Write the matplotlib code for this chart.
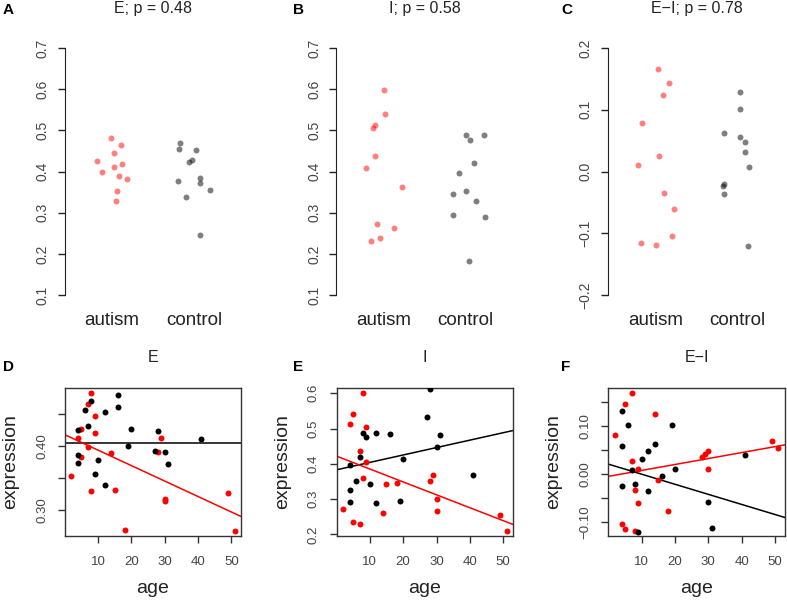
import numpy as np
import matplotlib
matplotlib.use('Agg')
import matplotlib.pyplot as plt

plt.rcParams['font.family'] = ['Liberation Sans', 'DejaVu Sans']

# ---- top row: stripcharts (x = jittered group position, 1 = autism, 2 = control)
groups = ['autism', 'control']

a_aut_x = [0.99, 1.11, 1.03, 0.815, 1.12, 1.02, 0.88, 1.09, 1.18, 1.06, 1.05]
a_aut_y = [0.481, 0.464, 0.445, 0.425, 0.419, 0.410, 0.398, 0.389, 0.382, 0.353, 0.329]
a_ctl_x = [1.83, 1.82, 2.03, 1.98, 1.94, 1.80, 2.07, 2.07, 2.20, 1.90, 2.07]
a_ctl_y = [0.469, 0.454, 0.452, 0.429, 0.423, 0.378, 0.385, 0.373, 0.356, 0.338, 0.246]

b_aut_x = [1.00, 1.02, 0.89, 0.87, 0.89, 0.78, 1.22, 0.92, 1.12, 0.95, 0.84]
b_aut_y = [0.599, 0.540, 0.514, 0.506, 0.438, 0.409, 0.362, 0.273, 0.264, 0.238, 0.232]
b_ctl_x = [2.00, 2.22, 2.05, 2.10, 1.92, 1.84, 2.00, 2.12, 1.84, 2.24, 2.04]
b_ctl_y = [0.488, 0.489, 0.476, 0.421, 0.397, 0.346, 0.352, 0.329, 0.295, 0.290, 0.183]

c_aut_x = [1.03, 1.17, 1.09, 0.84, 1.04, 0.79, 1.10, 1.23, 1.20, 0.82, 1.01]
c_aut_y = [0.166, 0.143, 0.124, 0.078, 0.025, 0.010, -0.034, -0.061, -0.104, -0.116, -0.119]
c_ctl_x = [2.03, 2.03, 1.83, 2.03, 2.09, 2.09, 2.14, 1.83, 1.82, 1.83, 2.13]
c_ctl_y = [0.129, 0.101, 0.062, 0.056, 0.048, 0.031, 0.008, -0.021, -0.024, -0.036, -0.121]

top_titles = ['E; p = 0.48', 'I; p = 0.58', 'E\u2212I; p = 0.78']
top_ticks = [[0.1, 0.2, 0.3, 0.4, 0.5, 0.6, 0.7],
             [0.1, 0.2, 0.3, 0.4, 0.5, 0.6, 0.7],
             [-0.2, -0.1, 0.0, 0.1, 0.2]]
top_ticklabels = [['0.1', '0.2', '0.3', '0.4', '0.5', '0.6', '0.7'],
                  ['0.1', '0.2', '0.3', '0.4', '0.5', '0.6', '0.7'],
                  ['\u22120.2', '\u22120.1', '0.0', '0.1', '0.2']]

# ---- bottom row: expression vs age (red = autism, black = control)
d_red_age = [8, 7, 9, 5, 9, 4, 29, 7, 14, 28, 5, 2, 8, 15, 49, 30, 30, 18, 51]
d_red_y = [0.4818, 0.4649, 0.4459, 0.4265, 0.4193, 0.4116, 0.4116, 0.3988, 0.3896, 0.3906,
           0.3829, 0.3533, 0.3297, 0.3317, 0.3276, 0.3169, 0.3138, 0.2703, 0.2683]
d_blk_age = [16, 8, 6, 16, 12, 7, 4, 20, 28, 41, 19, 27, 30, 4, 31, 4, 10, 9, 12]
d_blk_y = [0.4787, 0.4700, 0.4551, 0.4598, 0.4531, 0.4311, 0.4249, 0.4260, 0.4224, 0.4111,
           0.3998, 0.3917, 0.3901, 0.3865, 0.3712, 0.3742, 0.3789, 0.3568, 0.3399]

e_red_age = [8, 5, 4, 9, 7, 9, 8, 29, 28, 18, 15, 30, 2, 14, 30, 5, 7, 49, 51]
e_red_y = [0.600, 0.5411, 0.5140, 0.5056, 0.4364, 0.4065, 0.3607, 0.3682, 0.3523, 0.3458,
           0.3430, 0.3000, 0.2710, 0.2617, 0.2664, 0.2355, 0.2290, 0.2561, 0.2103]
e_blk_age = [28, 27, 8, 12, 16, 9, 31, 30, 7, 20, 4, 41, 6, 10, 4, 12, 19, 4]
e_blk_y = [0.613, 0.5318, 0.4879, 0.4869, 0.4832, 0.4757, 0.4813, 0.4467, 0.4196, 0.4131,
           0.3963, 0.3692, 0.3505, 0.3439, 0.3271, 0.2879, 0.2953, 0.2925]

f_red_age = [7, 5, 14, 2, 49, 51, 28, 29, 30, 30, 7, 9, 15, 8, 9, 18, 4, 5, 8]
f_red_y = [0.1676, 0.1449, 0.1250, 0.0797, 0.0687, 0.0543, 0.0357, 0.0419, 0.0481, 0.0103,
           0.0261, 0.0103, -0.0130, -0.0337, -0.0604, -0.0769, -0.1044, -0.1161, -0.1188]
f_blk_age = [4, 6, 19, 4, 14, 12, 10, 7, 20, 16, 8, 4, 12, 30, 41, 9, 31]
f_blk_y = [0.1298, 0.1023, 0.1016, 0.0570, 0.0625, 0.0481, 0.0316, 0.0082, 0.0096, -0.0055,
           -0.0206, -0.0247, -0.0364, -0.0591, 0.0398, -0.1209, -0.1126]

# fitted lines (intercept, slope)
d_red_fit, d_blk_fit = (0.4175, -0.002401), (0.4039, 0.0)
e_red_fit, e_blk_fit = (0.4219, -0.003658), (0.3830, 0.002102)
f_red_fit, f_blk_fit = (-0.0056, 0.001239), (0.0201, -0.002099)

bottom_titles = ['E', 'I', 'E\u2212I']
bottom_ticks = [[0.30, 0.35, 0.40, 0.45],
                [0.2, 0.3, 0.4, 0.5, 0.6],
                [-0.10, -0.05, 0.00, 0.05, 0.10, 0.15]]
bottom_ticklabels = [['0.30', '', '0.40', ''],
                     ['0.2', '0.3', '0.4', '0.5', '0.6'],
                     ['\u22120.10', '', '0.00', '', '0.10', '']]
age_ticks = [10, 20, 30, 40, 50]

W, H = 787, 602
fig = plt.figure(figsize=(W / 100, H / 100), dpi=100)


def px_rect(left, top, width, height):
    return [left / W, 1 - (top + height) / H, width / W, height / H]


lefts = [64.5, 336.3, 608.0]
tc = '#222222'

top_data = [(a_aut_x, a_aut_y, a_ctl_x, a_ctl_y),
            (b_aut_x, b_aut_y, b_ctl_x, b_ctl_y),
            (c_aut_x, c_aut_y, c_ctl_x, c_ctl_y)]
for i, (ax_, ay_, cx_, cy_) in enumerate(top_data):
    ax = fig.add_axes(px_rect(lefts[i], 38, 177, 267))
    ax.plot(ax_, ay_, 'o', color='red', alpha=0.5, ms=4.3, mec='none')
    ax.plot(cx_, cy_, 'o', color='black', alpha=0.5, ms=4.3, mec='none')
    ax.set_xlim(0.42, 2.58)
    lo, hi = top_ticks[i][0], top_ticks[i][-1]
    pad = 0.04 * (hi - lo)
    ax.set_ylim(lo - pad, hi + pad)
    for s in ['top', 'right', 'bottom']:
        ax.spines[s].set_visible(False)
    ax.spines['left'].set_bounds(lo, hi)
    ax.spines['left'].set_color(tc)
    ax.set_xticks([1, 2], groups)
    ax.tick_params(axis='x', length=0, pad=5, labelsize=13.5, labelcolor=tc)
    ax.set_yticks(top_ticks[i], top_ticklabels[i], rotation=90, va='center')
    ax.tick_params(axis='y', length=5, width=1, pad=6, labelsize=10, color=tc, labelcolor='#444444')
    fig.text((lefts[i] + 88.5) / W, 1 - 13.3 / H, top_titles[i], ha='center', va='baseline',
             fontsize=11.5, color=tc)

letter_x = [2.7, 293.5, 561.0]
for i, letter in enumerate(['A', 'B', 'C']):
    fig.text(letter_x[i] / W, 1 - 14.5 / H, letter, fontsize=11, fontweight='bold', va='baseline')
for i, letter in enumerate(['D', 'E', 'F']):
    fig.text(letter_x[i] / W, 1 - 371.3 / H, letter, fontsize=11, fontweight='bold', va='baseline')

bottom_data = [(d_red_age, d_red_y, d_blk_age, d_blk_y, d_red_fit, d_blk_fit),
               (e_red_age, e_red_y, e_blk_age, e_blk_y, e_red_fit, e_blk_fit),
               (f_red_age, f_red_y, f_blk_age, f_blk_y, f_red_fit, f_blk_fit)]
for i, (rx, ry, bx, by, rfit, bfit) in enumerate(bottom_data):
    ax = fig.add_axes(px_rect(lefts[i] + 0.3, 387.7, 176.5, 148.6))
    ax.plot(rx, ry, 'o', color='red', ms=4.3, mec='none', zorder=3)
    ax.plot(bx, by, 'o', color='black', ms=4.3, mec='none', zorder=3)
    ax.axline((0, bfit[0]), slope=bfit[1], color='black', lw=1.1, zorder=2)
    ax.axline((0, rfit[0]), slope=rfit[1], color='red', lw=1.1, zorder=2)
    xlo, xhi = min(rx), max(rx)
    ylo, yhi = min(ry), max(ry)
    ax.set_xlim(xlo - 0.04 * (xhi - xlo), xhi + 0.04 * (xhi - xlo))
    ax.set_ylim(ylo - 0.04 * (yhi - ylo), yhi + 0.04 * (yhi - ylo))
    for s in ax.spines.values():
        s.set_color('#333333')
        s.set_linewidth(1.0)
    ax.set_xticks(age_ticks)
    ax.set_yticks(bottom_ticks[i], bottom_ticklabels[i], rotation=90, va='center')
    ax.tick_params(length=5, width=1, color='#333333', labelsize=9.5, labelcolor='#444444')
    ax.tick_params(axis='x', pad=9)
    ax.tick_params(axis='y', pad=7)
    cx = lefts[i] + 88.5
    fig.text(cx / W, 1 - 362.3 / H, bottom_titles[i], ha='center', va='baseline',
             fontsize=11.5, color=tc)
    fig.text(cx / W, 1 - 593 / H, 'age', ha='center', va='baseline', fontsize=14, color=tc)
    fig.text((lefts[i] - 54) / W, 1 - 462 / H, 'expression', rotation=90, ha='center',
             va='center', fontsize=14, color=tc)

fig.savefig('out.png', dpi=100)
